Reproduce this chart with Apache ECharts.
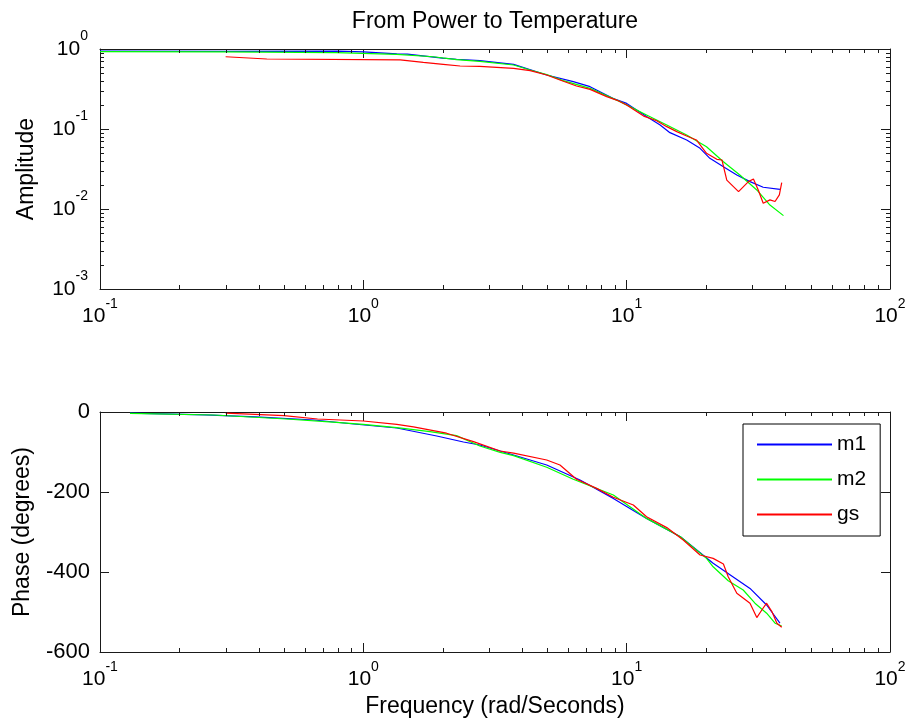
<!DOCTYPE html>
<html><head><meta charset="utf-8">
<script src="https://cdn.jsdelivr.net/npm/echarts@6/dist/echarts.min.js"></script>
<style>html,body{margin:0;padding:0;background:#fff}#c{width:910px;height:727px}</style>
</head><body><div id="c"></div>
<script>
// ---------- data ----------
const seriesNames = ['m1', 'm2', 'gs'];
const seriesColors = ['#0000ff', '#00ff00', '#ff0000'];

// Amplitude plot
const m1AmpFreq = [0.1, 0.3, 0.8, 1.0, 1.34, 1.47, 2.0, 2.26, 2.77, 3.72, 4.97, 6.27, 7.26, 8.9, 10.0, 11.9, 13.4, 14.6, 16.9, 19.0, 20.7, 23.3, 26.2, 29.4, 33.0, 38.2];
const m1Amp     = [0.94, 0.935, 0.94, 0.92, 0.87, 0.865, 0.77, 0.745, 0.715, 0.643, 0.473, 0.391, 0.338, 0.241, 0.209, 0.143, 0.112, 0.090, 0.0728, 0.0573, 0.043, 0.0338, 0.0266, 0.022, 0.0187, 0.0176];

const m2AmpFreq = [0.1, 0.3, 0.79, 1.34, 1.84, 2.26, 2.77, 3.72, 4.3, 4.97, 5.74, 7.26, 9.44, 11.9, 14.2, 16.9, 20.1, 23.3, 26.9, 31.2, 35.0, 39.4];
const m2Amp     = [0.925, 0.92, 0.90, 0.857, 0.80, 0.736, 0.70, 0.631, 0.546, 0.48, 0.402, 0.322, 0.22, 0.15, 0.112, 0.084, 0.060, 0.039, 0.0266, 0.0173, 0.0112, 0.00826];

const gsAmpFreq = [0.30, 0.43, 1.38, 1.69, 2.01, 2.33, 2.77, 3.72, 4.30, 4.97, 5.58, 6.45, 7.26, 8.4, 9.16, 10.0, 11.6, 13.0, 14.2, 15.5, 16.9, 18.4, 20.1, 22.0, 23.0, 24.0, 26.6, 29.0, 30.3, 31.6, 33.0, 35.0, 36.6, 38.0, 38.8];
const gsAmp     = [0.80, 0.75, 0.73, 0.68, 0.643, 0.613, 0.605, 0.573, 0.536, 0.473, 0.41, 0.345, 0.313, 0.254, 0.230, 0.2, 0.145, 0.127, 0.107, 0.0927, 0.0818, 0.0729, 0.0497, 0.0418, 0.041, 0.023, 0.0165, 0.022, 0.0237, 0.0173, 0.0118, 0.013, 0.0124, 0.015, 0.0214];

// Phase plot
const m1PhFreq = [0.13, 0.25, 0.39, 0.65, 0.92, 1.34, 1.9, 2.4, 2.77, 3.72, 4.97, 6.65, 8.9, 11.9, 16.0, 21.3, 29.4, 34.0, 38.2];
const m1Ph     = [-3, -7, -12, -20, -30, -40, -60, -75, -82.5, -107.5, -132.5, -170, -216, -266, -312, -378, -441, -482.5, -528];

const m2PhFreq = [0.13, 0.27, 0.51, 0.79, 1.0, 1.34, 1.79, 2.26, 2.77, 3.31, 3.72, 4.97, 6.27, 8.9, 11.9, 16.0, 20.1, 21.3, 24.3, 27.7, 30.7, 34.0, 36.6, 38.8];
const m2Ph     = [-3.3, -7.5, -17.5, -26, -31, -39, -49, -59, -85, -101, -109, -138, -168, -207.5, -266, -312, -366, -387, -422, -445, -478, -503, -528, -535];

const gsPhFreq = [0.30, 0.50, 0.67, 1.0, 1.34, 1.55, 2.07, 2.62, 3.31, 3.72, 4.97, 5.58, 6.45, 7.69, 8.9, 10.6, 11.9, 14.2, 16.4, 19.0, 21.3, 23.3, 24.3, 26.2, 29.4, 31.2, 32.6, 34.0, 35.6, 37.2, 38.8];
const gsPh     = [-3, -9, -17.5, -22.5, -31, -37, -53, -74, -97.5, -103, -120, -132.5, -168, -191, -213, -232.5, -262, -289, -320, -357.5, -366, -380, -412, -453, -478, -514, -495, -478, -499, -528, -538];

// Axes
const freqMin = 0.1, freqMax = 100;
const ampMin = 0.001, ampMax = 1;
const phMin = -600, phMax = 0, phStep = 200;
const freqMinorTicks = [0.2,0.3,0.4,0.5,0.6,0.7,0.8,0.9, 2,3,4,5,6,7,8,9, 20,30,40,50,60,70,80,90];
const ampMinorTicks = [0.002,0.003,0.004,0.005,0.006,0.007,0.008,0.009, 0.02,0.03,0.04,0.05,0.06,0.07,0.08,0.09, 0.2,0.3,0.4,0.5,0.6,0.7,0.8,0.9];

const titleText = 'From Power to Temperature';
const xName = 'Frequency (rad/Seconds)';
const ampName = 'Amplitude';
const phName = 'Phase (degrees)';

// ---------- chart ----------
const FONT = '"Liberation Sans", Arial, Helvetica, sans-serif';
const AX = '#1a1a1a';
const zip = (a, b) => a.map((v, i) => [v, b[i]]);

const supRich = {
  b: { fontSize: 21, fontFamily: FONT, color: '#000', verticalAlign: 'bottom' },
  s: { fontSize: 14, fontFamily: FONT, color: '#000', verticalAlign: 'top', lineHeight: 30 }
};
const supFmt = v => '{b|10}{s|' + Math.round(Math.log10(v)) + '}';

function baseAxis(extra) {
  return Object.assign({
    axisLine: { show: true, onZero: false, lineStyle: { color: AX, width: 1 } },
    axisTick: { show: true, inside: true, length: 9, lineStyle: { color: AX, width: 1 } },
    splitLine: { show: false },
    minorTick: { show: false },
    nameTextStyle: { fontFamily: FONT, fontSize: 23, color: '#000' }
  }, extra);
}

function minorTicks(xi, yi, values, dir, lo, hi, len) {
  return {
    type: 'custom', xAxisIndex: xi, yAxisIndex: yi, silent: true, clip: false, z: 4,
    data: values.map(v => dir === 'x' ? [v, lo] : [lo, v]),
    renderItem: function (params, api) {
      const v = api.value(dir === 'x' ? 0 : 1);
      const st = { stroke: AX, lineWidth: 1 };
      if (dir === 'x') {
        const a = api.coord([v, lo]), b = api.coord([v, hi]);
        const x = Math.round(a[0]) + 0.5;
        return { type: 'group', children: [
          { type: 'line', shape: { x1: x, y1: a[1], x2: x, y2: a[1] - len }, style: st },
          { type: 'line', shape: { x1: x, y1: b[1], x2: x, y2: b[1] + len }, style: st }
        ]};
      } else {
        const a = api.coord([lo, v]), b = api.coord([hi, v]);
        const y = Math.round(a[1]) + 0.5;
        return { type: 'group', children: [
          { type: 'line', shape: { x1: a[0], y1: y, x2: a[0] + len, y2: y }, style: st },
          { type: 'line', shape: { x1: b[0], y1: y, x2: b[0] - len, y2: y }, style: st }
        ]};
      }
    }
  };
}

function lineSeries(name, color, xi, yi, data) {
  return {
    type: 'line', name: name, xAxisIndex: xi, yAxisIndex: yi, data: data,
    showSymbol: false, symbol: 'none', smooth: false, clip: true,
    lineStyle: { color: color, width: 1.2 }, itemStyle: { color: color }, z: 3
  };
}

const chart = echarts.init(document.getElementById('c'), null, { renderer: 'canvas' });
chart.setOption({
  animation: false,
  backgroundColor: '#fff',
  grid: [
    { left: 100, right: 20, top: 49, height: 240 },
    { left: 100, right: 20, top: 412, height: 240 }
  ],
  xAxis: [
    baseAxis({ type: 'log', logBase: 10, gridIndex: 0, position: 'bottom', min: freqMin, max: freqMax,
      axisLabel: { show: true, formatter: supFmt, rich: supRich, margin: 8, showMinLabel: true, showMaxLabel: true } }),
    baseAxis({ type: 'log', logBase: 10, gridIndex: 0, position: 'top', min: freqMin, max: freqMax,
      axisLabel: { show: false }, name: titleText, nameLocation: 'middle', nameGap: 16 }),
    baseAxis({ type: 'log', logBase: 10, gridIndex: 1, position: 'bottom', min: freqMin, max: freqMax,
      axisLabel: { show: true, formatter: supFmt, rich: supRich, margin: 8, showMinLabel: true, showMaxLabel: true },
      name: xName, nameLocation: 'middle', nameGap: 43 }),
    baseAxis({ type: 'log', logBase: 10, gridIndex: 1, position: 'top', min: freqMin, max: freqMax,
      axisLabel: { show: false } })
  ],
  yAxis: [
    baseAxis({ type: 'log', logBase: 10, gridIndex: 0, position: 'left', min: ampMin, max: ampMax,
      axisLabel: { show: true, formatter: supFmt, rich: supRich, margin: 12, padding: [0, 0, 9, 0], showMinLabel: true, showMaxLabel: true },
      name: ampName, nameLocation: 'middle', nameGap: 62 }),
    baseAxis({ type: 'log', logBase: 10, gridIndex: 0, position: 'right', min: ampMin, max: ampMax,
      axisLabel: { show: false } }),
    baseAxis({ type: 'value', gridIndex: 1, position: 'left', min: phMin, max: phMax, interval: phStep,
      axisLabel: { show: true, fontSize: 22, fontFamily: FONT, color: '#000', margin: 10, showMinLabel: true, showMaxLabel: true },
      name: phName, nameLocation: 'middle', nameGap: 66 }),
    baseAxis({ type: 'value', gridIndex: 1, position: 'right', min: phMin, max: phMax, interval: phStep,
      axisLabel: { show: false } })
  ],
  legend: {
    data: seriesNames.map(n => ({ name: n, icon: 'rect' })),
    orient: 'vertical', left: 743, top: 424,
    itemWidth: 75, itemHeight: 2, itemGap: 14, padding: [10, 14, 11, 14],
    borderColor: '#000', borderWidth: 1, borderRadius: 0, backgroundColor: '#fff',
    textStyle: { fontFamily: FONT, fontSize: 21, color: '#000' },
    selectedMode: false
  },
  series: [
    lineSeries(seriesNames[0], seriesColors[0], 0, 0, zip(m1AmpFreq, m1Amp)),
    lineSeries(seriesNames[1], seriesColors[1], 0, 0, zip(m2AmpFreq, m2Amp)),
    lineSeries(seriesNames[2], seriesColors[2], 0, 0, zip(gsAmpFreq, gsAmp)),
    lineSeries(seriesNames[0], seriesColors[0], 2, 2, zip(m1PhFreq, m1Ph)),
    lineSeries(seriesNames[1], seriesColors[1], 2, 2, zip(m2PhFreq, m2Ph)),
    lineSeries(seriesNames[2], seriesColors[2], 2, 2, zip(gsPhFreq, gsPh)),
    minorTicks(0, 0, freqMinorTicks, 'x', ampMin, ampMax, 4),
    minorTicks(0, 0, ampMinorTicks, 'y', freqMin, freqMax, 4),
    minorTicks(2, 2, freqMinorTicks, 'x', phMin, phMax, 4)
  ]
});
</script></body></html>
